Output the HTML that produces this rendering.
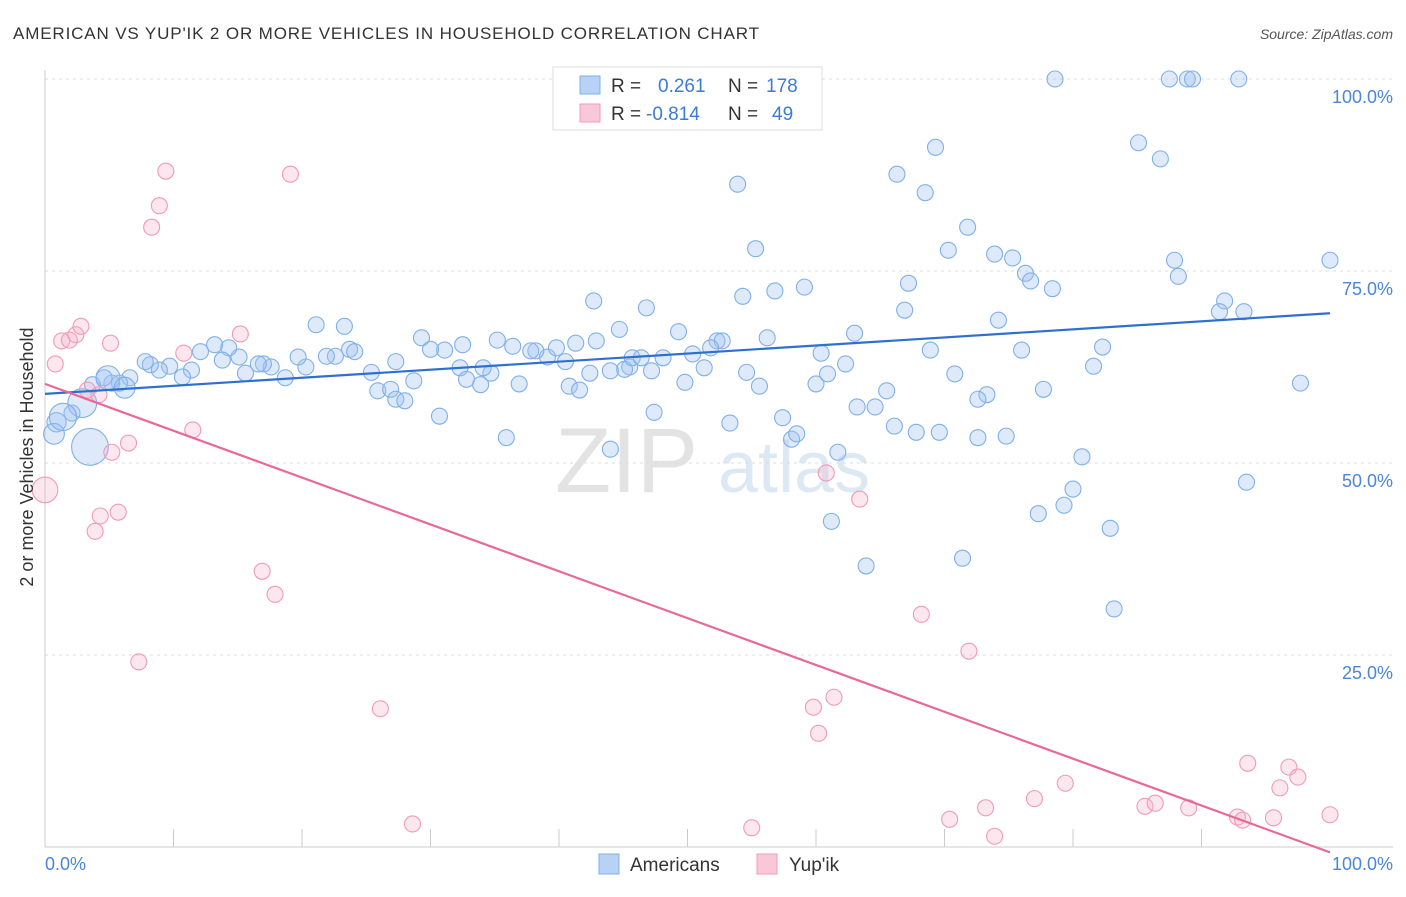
<!DOCTYPE html>
<html><head><meta charset="utf-8">
<style>
body{margin:0;background:#fff;font-family:"Liberation Sans",sans-serif;}
svg text{font-family:"Liberation Sans",sans-serif;}
</style></head>
<body>
<svg id="chart" width="1406" height="892" xmlns="http://www.w3.org/2000/svg">
<text x="13" y="39" font-size="17" fill="#333" textLength="746" lengthAdjust="spacing">AMERICAN VS YUP'IK 2 OR MORE VEHICLES IN HOUSEHOLD CORRELATION CHART</text>
<text x="1393" y="39" font-size="14" fill="#555" text-anchor="end" font-style="italic">Source: ZipAtlas.com</text>
<g id="grid"></g>
<text x="555" y="492" font-size="92" fill="#ddd" font-family="Liberation Serif" opacity="0.8">ZIP</text>
<text x="718" y="492" font-size="72" fill="#c8daf0" opacity="0.6">atlas</text>
<g id="marks"></g>
<text transform="translate(33,457) rotate(-90)" font-size="18" fill="#333" text-anchor="middle">2 or more Vehicles in Household</text>
<text x="45" y="870" font-size="18" fill="#4a86d8">0.0%</text>
<text x="1393" y="870" font-size="18" fill="#4a86d8" text-anchor="end">100.0%</text>
<g>
<rect x="553" y="67" width="269" height="63" fill="#fff" stroke="#ddd"/>
<rect x="580" y="76" width="20" height="18" fill="#b7d2f5" stroke="#7fb0e8"/>
<rect x="580" y="104" width="20" height="18" fill="#f9c8d8" stroke="#f09ab8"/>
<text x="611" y="92" font-size="19" fill="#333">R = </text><text x="658" y="92" font-size="19" fill="#3b7bd8">0.261</text>
<text x="728" y="92" font-size="19" fill="#333">N = </text><text x="766" y="92" font-size="19" fill="#3b7bd8">178</text>
<text x="611" y="120" font-size="19" fill="#333">R = </text><text x="646" y="120" font-size="19" fill="#3b7bd8">-0.814</text>
<text x="728" y="120" font-size="19" fill="#333">N = </text><text x="772" y="120" font-size="19" fill="#3b7bd8">49</text>
</g>
<g>
<rect x="599" y="854" width="20" height="20" fill="#b7d2f5" stroke="#7fb0e8"/>
<text x="630" y="871" font-size="19" fill="#333">Americans</text>
<rect x="757" y="854" width="20" height="20" fill="#f9c8d8" stroke="#f09ab8"/>
<text x="789" y="871" font-size="19" fill="#333">Yup'ik</text>
</g>
</svg>
<script>
const yTicks=[25,50,75,100];
const yTickLabels=["25.0%","50.0%","75.0%","100.0%"];
const xTicks=[10,20,30,40,50,60,70,80,90];
const blueX=[78.6,87.5,88.9,89.3,92.9,85.1,86.8,69.3,53.9,66.3,68.5,71.8,55.3,70.3,73.9,75.3,76.3,76.7,78.4,87.9,88.2,100,91.8,91.4,93.3,56.8,59.1,54.3,67.2,66.9,74.2,42.7,46.8,76.0,82.3,81.6,97.7,77.7,68.9,63.0,56.2,49.3,44.7,21.1,23.3,13.2,93.5,80.7,80.0,79.3,77.3,82.9,83.2,71.4,63.9,61.2,61.7,58.1,58.5,57.4,53.3,47.4,44.0,35.9,30.7,64.6,65.5,67.8,69.6,72.6,74.8,73.3,72.6,70.8,66.1,63.2,60.4,60.0,60.9,62.3,54.6,55.6,51.3,49.8,52.3,52.7,51.8,50.4,48.1,45.5,45.1,44.0,42.9,41.3,40.5,39.1,39.8,38.2,37.8,36.4,35.2,34.7,32.5,31.1,30.0,29.3,27.3,25.4,25.9,26.9,27.3,28.0,28.7,23.7,24.1,22.6,21.9,20.3,19.7,18.7,17.6,17.0,16.6,15.6,15.1,14.3,13.8,12.1,11.4,10.7,9.7,8.9,8.2,7.8,6.6,5.8,5.2,4.6,3.7,32.3,32.8,33.9,34.1,36.9,40.8,41.6,42.4,45.7,46.4,47.2,2.1,0.9,0.7,3.5,2.9,1.4,4.9,6.2];
const blueY=[100,100,100,100,100,91.7,89.6,91.1,86.3,87.6,85.2,80.7,77.9,77.7,77.2,76.7,74.7,73.7,72.7,76.4,74.3,76.4,71.1,69.7,69.7,72.4,72.9,71.7,73.4,69.9,68.6,71.1,70.2,64.7,65.1,62.6,60.4,59.6,64.7,66.9,66.3,67.1,67.4,68.0,67.8,65.4,47.5,50.8,46.6,44.5,43.4,41.5,31.0,37.6,36.6,42.4,51.4,53.1,53.8,55.9,55.2,56.6,51.8,53.3,56.1,57.3,59.4,54.0,54.0,53.3,53.5,58.9,58.3,61.6,54.8,57.3,64.3,60.3,61.6,62.9,61.8,60.0,62.4,60.5,65.9,65.9,65.0,64.2,63.7,62.5,62.2,62.0,65.9,65.6,63.2,63.8,65.0,64.6,64.6,65.2,66.0,61.7,65.4,64.7,64.8,66.3,63.2,61.8,59.4,59.6,58.3,58.1,60.7,64.8,64.5,63.9,63.9,62.5,63.8,61.1,62.5,62.9,62.9,61.7,63.8,65.0,63.4,64.5,62.1,61.2,62.6,62.1,62.8,63.2,61.1,60.4,60.4,61.1,60.2,62.4,60.9,60.2,62.4,60.3,60.0,59.5,61.7,63.7,63.7,62.0,56.5,55.3,53.8,52.1,57.8,56.0,61.1,59.8];
const blueSize=[];for(let i=0;i<blueX.length;i++)blueSize.push(1);
blueSize[blueX.length-5]=2.3;blueSize[blueX.length-4]=1.8;blueSize[blueX.length-3]=1.7;blueSize[blueX.length-2]=1.5;blueSize[blueX.length-1]=1.3;blueSize[blueX.length-6]=1.3;blueSize[blueX.length-7]=1.2;
const pinkX=[0,0.8,1.3,1.9,2.4,2.8,5.1,3.3,4.2,5.2,6.5,4.3,3.9,5.7,9.4,8.9,8.3,10.8,11.5,15.2,19.1,16.9,17.9,7.3,26.1,28.6,55.0,59.8,61.4,60.2,60.8,63.4,68.2,71.9,70.4,73.2,73.9,77.0,79.4,85.6,86.4,89.0,92.8,93.6,93.2,95.6,96.1,96.8,97.5,100];
const pinkY=[46.5,62.9,65.9,66.0,66.7,67.8,65.6,59.5,58.9,51.4,52.6,43.1,41.1,43.6,88.0,83.5,80.7,64.3,54.3,66.8,87.6,35.9,32.9,24.1,18.0,3.0,2.5,18.2,19.5,14.8,48.7,45.3,30.3,25.5,3.6,5.1,1.4,6.3,8.3,5.3,5.7,5.1,3.9,10.9,3.5,3.8,7.7,10.4,9.1,4.2];
const pinkSize=[];for(let i=0;i<pinkX.length;i++)pinkSize.push(1);pinkSize[0]=1.6;
const blueTrend=[59.0,69.5];
const pinkTrend=[60.3,-0.7];

const NS="http://www.w3.org/2000/svg";
const X0=45,X1=1330,Y0=847,Y1=79;
function sx(v){return X0+(X1-X0)*v/100;}
function sy(v){return Y0-(Y0-Y1)*v/100;}
function mk(t,a,p){const e=document.createElementNS(NS,t);for(const k in a)e.setAttribute(k,a[k]);p.appendChild(e);return e;}
const grid=document.getElementById('grid'),marks=document.getElementById('marks');
mk('line',{x1:X0,y1:70,x2:X0,y2:Y0,stroke:'#ccc'},grid);
mk('line',{x1:X0,y1:Y0,x2:1393,y2:Y0,stroke:'#ccc'},grid);
yTicks.forEach((t,i)=>{
 const l=mk('line',{x1:X0,y1:sy(t),x2:1393,y2:sy(t),stroke:'#ddd','stroke-dasharray':'3,4'},grid);
 
 
 const tx=mk('text',{x:1393,y:sy(t)+24,'font-size':18,fill:'#4a86d8','text-anchor':'end'},grid);
 tx.textContent=yTickLabels[i];
 
 
});
xTicks.forEach(t=>{
 const l=mk('line',{x1:sx(t),y1:Y0,x2:sx(t),y2:Y0-18,stroke:'#ccc'},grid);
 
 
});
blueX.forEach((v,i)=>{
 const c=mk('circle',{cx:sx(v),cy:sy(blueY[i]),r:8*blueSize[i],fill:'rgba(160,196,240,0.35)',stroke:'#7fb0e8','stroke-width':1.1},marks);
 
 
});
pinkX.forEach((v,i)=>{
 const c=mk('circle',{cx:sx(v),cy:sy(pinkY[i]),r:8*pinkSize[i],fill:'rgba(245,175,200,0.3)',stroke:'#f09ab8','stroke-width':1.1},marks);
 
 
});
const bl=mk('line',{x1:sx(0),y1:sy(blueTrend[0]),x2:sx(100),y2:sy(blueTrend[1]),stroke:'#2f6fd0','stroke-width':2.2},marks);


const pl=mk('line',{x1:sx(0),y1:sy(pinkTrend[0]),x2:sx(100),y2:sy(pinkTrend[1]),stroke:'#e8689a','stroke-width':2.2},marks);


</script>
</body></html>
